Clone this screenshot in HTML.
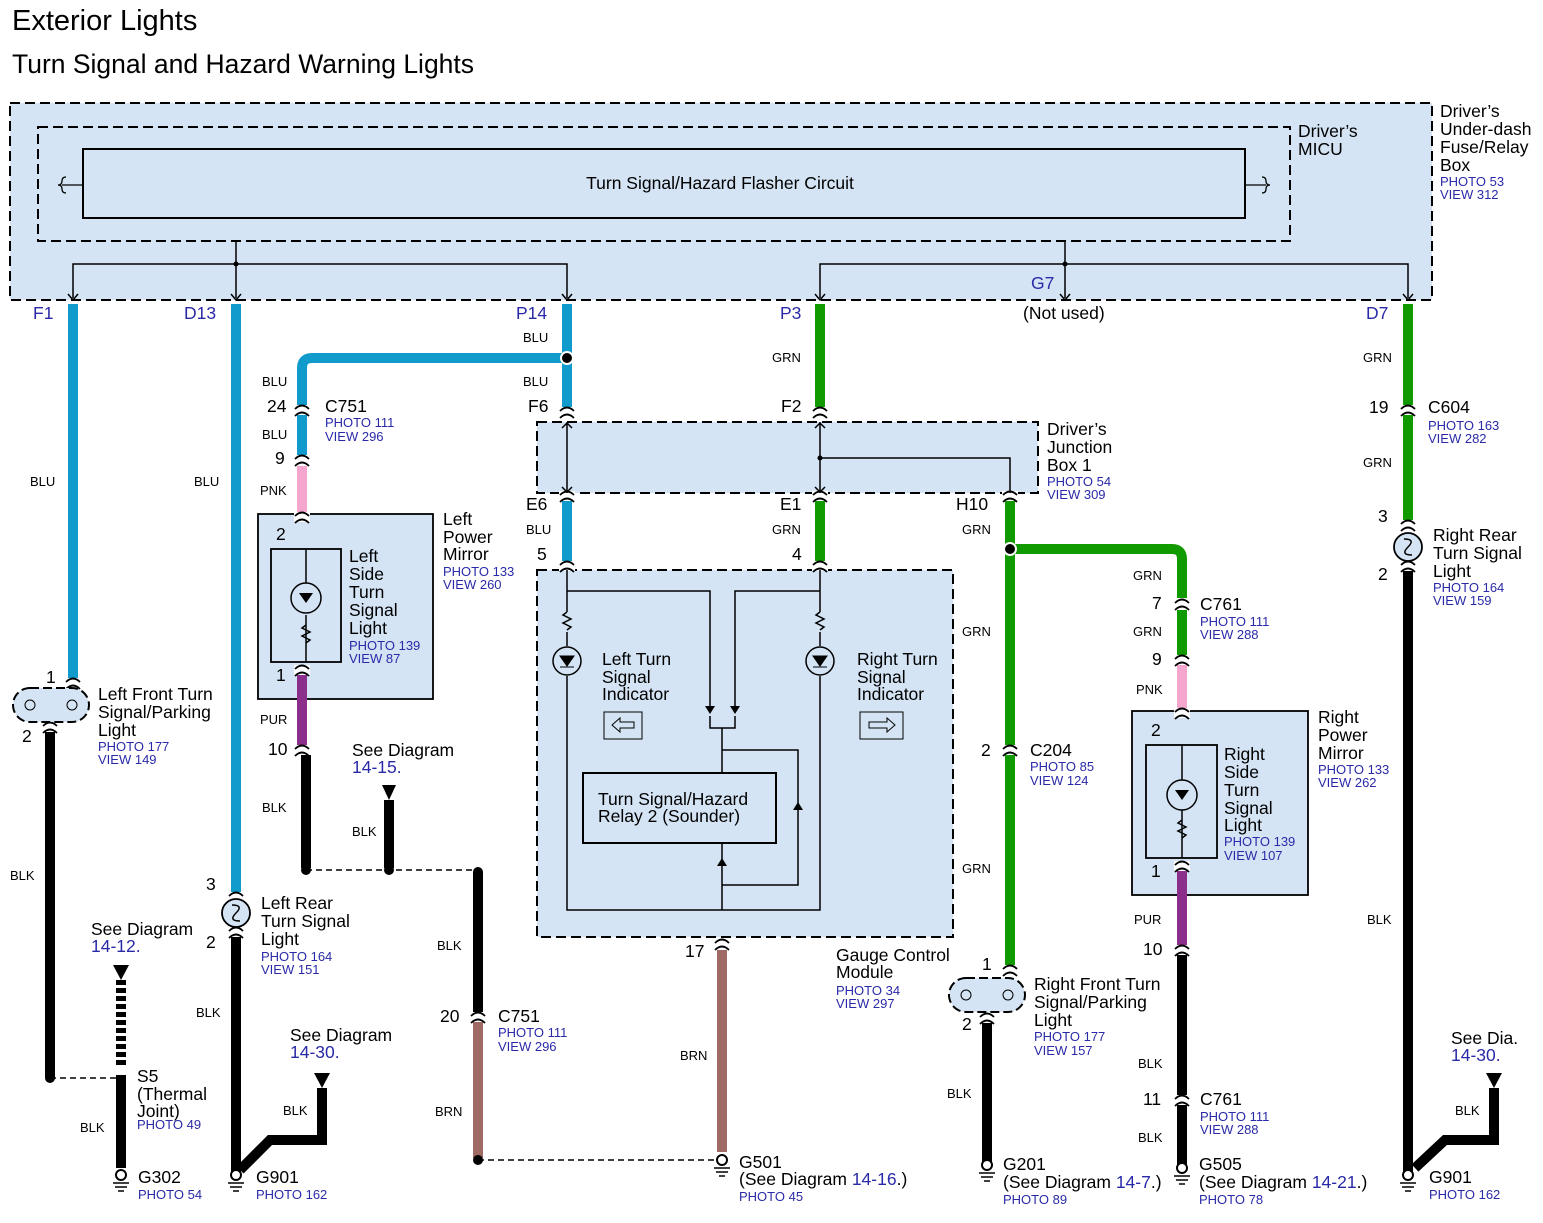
<!DOCTYPE html>
<html><head><meta charset="utf-8"><style>
html,body{margin:0;padding:0;background:#fff}
svg{display:block}
text{font-family:"Liberation Sans",sans-serif;fill:#000}
.t{font-size:17.5px}
.w{font-size:13px}
.p{font-size:13px;fill:#2a2aa8}
.b{font-size:17.5px;fill:#2a2aa8}
</style></head><body>
<svg width="1543" height="1223" viewBox="0 0 1543 1223" xmlns="http://www.w3.org/2000/svg">
<defs>
<g id="cn"><rect x="-8" y="-5" width="16" height="10" fill="#fff"/><path d="M-7,-1 Q0,-8 7,-1 M-7,6 Q0,-1 7,6" fill="none" stroke="#000" stroke-width="1.8"/></g>
<g id="gnd"><circle cx="0" cy="0" r="5" fill="#fff" stroke="#000" stroke-width="2"/><path d="M-8,8H8M-6,12H6M-3,16H3" stroke="#000" stroke-width="1.6"/></g>
<g id="tm"><path d="M-5,-4 L0,2 L5,-4" fill="none" stroke="#000" stroke-width="1.5"/></g>
<g id="bulb"><circle r="14" fill="#d4e4f4" stroke="#000" stroke-width="1.8"/><path d="M-4,-8 Q8,-8 0,0 Q-8,8 4,8" fill="none" stroke="#000" stroke-width="1.5"/></g>
</defs>

<text x="12" y="30" style="font-size:29px">Exterior Lights</text>
<text x="12" y="73" style="font-size:26.5px">Turn Signal and Hazard Warning Lights</text>

<rect x="10" y="103" width="1422" height="197" fill="#d4e4f4" stroke="#000" stroke-width="2" stroke-dasharray="10,5"/>
<rect x="38" y="127" width="1252" height="114" fill="none" stroke="#000" stroke-width="2" stroke-dasharray="10,5"/>
<rect x="83" y="149" width="1162" height="69" fill="none" stroke="#000" stroke-width="2"/>
<text x="720" y="189" class="t" text-anchor="middle">Turn Signal/Hazard Flasher Circuit</text>
<path d="M66,177q-4,0 -4,4q0,4 -4,4q4,0 4,4q0,4 4,4M1262,177q4,0 4,4q0,4 4,4q-4,0 -4,4q0,4 -4,4" fill="none" stroke="#000" stroke-width="1.3"/>
<path d="M62,185H83M1245,185H1266" stroke="#000" stroke-width="1.3"/>
<g fill="none" stroke="#000" stroke-width="1.5">
<path d="M236,241V264M73,298V264H567V298M236,264V298M1065,241V264M820,298V264H1408V298M1065,264V298"/>
</g>
<circle cx="236" cy="264" r="2.5"/><circle cx="1065" cy="264" r="2.5"/>
<use href="#tm" x="73" y="298"/><use href="#tm" x="236" y="298"/><use href="#tm" x="567" y="298"/><use href="#tm" x="820" y="298"/><use href="#tm" x="1065" y="298"/><use href="#tm" x="1408" y="298"/>
<text x="1298" y="137" class="t">Driver’s</text><text x="1298" y="155" class="t">MICU</text>
<text x="1440" y="117" class="t">Driver’s</text><text x="1440" y="135" class="t">Under-dash</text><text x="1440" y="153" class="t">Fuse/Relay</text><text x="1440" y="171" class="t">Box</text>
<text x="1440" y="186" class="p">PHOTO 53</text><text x="1440" y="199" class="p">VIEW 312</text>
<text x="33" y="319" class="b">F1</text><text x="184" y="319" class="b">D13</text><text x="516" y="319" class="b">P14</text><text x="780" y="319" class="b">P3</text><text x="1031" y="289" class="b">G7</text><text x="1023" y="319" class="t">(Not used)</text><text x="1366" y="319" class="b">D7</text>

<rect x="537" y="422" width="501" height="71" fill="#d4e4f4" stroke="#000" stroke-width="2" stroke-dasharray="10,5"/>
<rect x="537" y="570" width="416" height="367" fill="#d4e4f4" stroke="#000" stroke-width="2" stroke-dasharray="10,5"/>
<rect x="258" y="514" width="175" height="185" fill="#d4e4f4" stroke="#000" stroke-width="1.8"/>
<rect x="1132" y="711" width="176" height="184" fill="#d4e4f4" stroke="#000" stroke-width="1.8"/>

<g fill="none" stroke-width="10">
<path d="M73,304V680" stroke="#119bcc"/>
<path d="M50,730V1078" stroke="#000"/>
<path d="M236,304V895" stroke="#119bcc"/>
<path d="M236,935V1172" stroke="#000"/>
<path d="M322,1088V1140H270L240,1170" stroke="#000"/>
<path d="M567,304V413" stroke="#119bcc"/>
<path d="M567,358H312Q302,358 302,368V455" stroke="#119bcc"/>
<path d="M302,466V515" stroke="#f4a6cf"/>
<path d="M302,672V745" stroke="#8c2f8c"/>
<path d="M306,755V868" stroke="#000"/>
<path d="M389,800V868" stroke="#000"/>
<path d="M478,872V1012" stroke="#000"/>
<path d="M478,1022V1158" stroke="#a06a64"/>
<path d="M567,498V563" stroke="#119bcc"/>
<path d="M820,304V413" stroke="#119900"/>
<path d="M820,498V563" stroke="#119900"/>
<path d="M722,950V1152" stroke="#a06a64"/>
<path d="M1010,498V970" stroke="#119900"/>
<path d="M1010,549H1172Q1182,549 1182,559V598" stroke="#119900"/>
<path d="M1182,610V655" stroke="#119900"/>
<path d="M1182,665V711" stroke="#f4a6cf"/>
<path d="M1182,868V945" stroke="#8c2f8c"/>
<path d="M1182,955V1095" stroke="#000"/>
<path d="M1182,1105V1165" stroke="#000"/>
<path d="M987,1020V1162" stroke="#000"/>
<path d="M1408,304V525" stroke="#119900"/>
<path d="M1408,570V1172" stroke="#000"/>
<path d="M1494,1088V1140H1445L1415,1168" stroke="#000"/>
<path d="M121,1075V1168" stroke="#000"/>
<path d="M121,980V1066" stroke="#000" stroke-dasharray="5,3"/>
</g>
<g stroke="#000" stroke-width="1.5" stroke-dasharray="6,4" fill="none">
<path d="M50,1078H121M306,870H478M478,1160H722"/>
</g>
<g fill="#000"><circle cx="50" cy="1078" r="5"/><circle cx="306" cy="870" r="5"/><circle cx="389" cy="870" r="5"/><circle cx="478" cy="872" r="5"/><circle cx="478" cy="1160" r="5"/></g>
<circle cx="567" cy="358" r="6" fill="#000" stroke="#fff" stroke-width="2"/>
<circle cx="1010" cy="549" r="6" fill="#000" stroke="#fff" stroke-width="2"/>
<g fill="#000"><path d="M382,785H396L389,800Z"/><path d="M314,1073H330L322,1088Z"/><path d="M113,965H129L121,980Z"/><path d="M1486,1073H1502L1494,1088Z"/></g>

<use href="#cn" x="302" y="410"/><use href="#cn" x="302" y="460"/><use href="#cn" x="302" y="750"/><use href="#cn" x="1182" y="604"/><use href="#cn" x="1182" y="660"/><use href="#cn" x="1182" y="950"/><use href="#cn" x="1182" y="1100"/><use href="#cn" x="1010" y="750"/><use href="#cn" x="1408" y="410"/><use href="#cn" x="478" y="1017"/>
<use href="#cn" x="567" y="412"/><use href="#cn" x="820" y="412"/><use href="#cn" x="567" y="496"/><use href="#cn" x="820" y="496"/><use href="#cn" x="1010" y="496"/><use href="#cn" x="567" y="566"/><use href="#cn" x="820" y="566"/><use href="#cn" x="722" y="944"/>
<use href="#cn" x="73" y="683"/><use href="#cn" x="50" y="727"/><use href="#cn" x="236" y="897"/><use href="#cn" x="236" y="932"/><use href="#cn" x="302" y="517"/><use href="#cn" x="302" y="670"/><use href="#cn" x="1182" y="713"/><use href="#cn" x="1182" y="866"/><use href="#cn" x="1408" y="525"/><use href="#cn" x="1408" y="566"/><use href="#cn" x="1010" y="970"/><use href="#cn" x="987" y="1018"/>

<g fill="none" stroke="#000" stroke-width="1.5"><path d="M567,422V493M820,422V493M820,458H1010V493M562,428l5,-5l5,5M562,487l5,5l5,-5M815,428l5,-5l5,5M815,487l5,5l5,-5"/></g>
<circle cx="820" cy="458" r="2.5"/>
<text x="1047" y="435" class="t">Driver’s</text><text x="1047" y="453" class="t">Junction</text><text x="1047" y="471" class="t">Box 1</text>
<text x="1047" y="486" class="p">PHOTO 54</text><text x="1047" y="499" class="p">VIEW 309</text>

<g fill="none" stroke="#000" stroke-width="1.5">
<path d="M567,570V612M567,632V646M567,676V910H820V676M820,570V612M820,632V646"/>
<path d="M567,591H710V706M820,591H735V706M710,716V728H735V716M722,728V773M722,843V910M722,750H798V885H722M798,750V885"/>
<path d="M567,612l-4,3l8,4l-8,4l8,4l-4,3M820,612l-4,3l8,4l-8,4l8,4l-4,3"/>
</g>
<circle cx="567" cy="661" r="14" fill="none" stroke="#000" stroke-width="1.5"/><path d="M560,656H574L567,666ZM560,667H574" fill="#000" stroke="#000"/>
<circle cx="820" cy="661" r="14" fill="none" stroke="#000" stroke-width="1.5"/><path d="M813,656H827L820,666ZM813,667H827" fill="#000" stroke="#000"/>
<path d="M705,706H715L710,714ZM730,706H740L735,714ZM717,866H727L722,858ZM793,810H803L798,802Z" fill="#000"/>
<rect x="583" y="773" width="193" height="70" fill="#d4e4f4" stroke="#000" stroke-width="2"/>
<text x="598" y="805" class="t">Turn Signal/Hazard</text><text x="598" y="822" class="t">Relay 2 (Sounder)</text>
<rect x="604" y="712" width="38" height="27" fill="none" stroke="#000"/><path d="M612,725l8,-7v4h14v6h-14v4z" fill="none" stroke="#000"/>
<rect x="860" y="712" width="43" height="27" fill="none" stroke="#000"/><path d="M895,725l-8,-7v4h-18v6h18v4z" fill="none" stroke="#000"/>
<text x="602" y="665" class="t">Left Turn</text><text x="602" y="683" class="t">Signal</text><text x="602" y="700" class="t">Indicator</text>
<text x="857" y="665" class="t">Right Turn</text><text x="857" y="683" class="t">Signal</text><text x="857" y="700" class="t">Indicator</text>
<text x="836" y="961" class="t">Gauge Control</text><text x="836" y="978" class="t">Module</text><text x="836" y="995" class="p">PHOTO 34</text><text x="836" y="1008" class="p">VIEW 297</text>

<rect x="271" y="549" width="70" height="113" fill="none" stroke="#000" stroke-width="1.8"/>
<g fill="none" stroke="#000" stroke-width="1.5"><path d="M306,549V583M306,615V662M306,625l-4,3l8,4l-8,4l8,4l-4,3"/></g>
<circle cx="306" cy="598" r="15" fill="none" stroke="#000" stroke-width="1.5"/><path d="M299,593H313L306,603Z" fill="#000"/>
<rect x="1146" y="745" width="71" height="113" fill="none" stroke="#000" stroke-width="1.8"/>
<g fill="none" stroke="#000" stroke-width="1.5"><path d="M1182,745V780M1182,810V858M1182,820l-4,3l8,4l-8,4l8,4l-4,3"/></g>
<circle cx="1182" cy="795" r="15" fill="none" stroke="#000" stroke-width="1.5"/><path d="M1175,790H1189L1182,800Z" fill="#000"/>

<rect x="13" y="688" width="76" height="34" rx="17" fill="#d4e4f4" stroke="#000" stroke-width="2" stroke-dasharray="9,4"/>
<circle cx="30" cy="705" r="5" fill="none" stroke="#000"/><circle cx="72" cy="705" r="5" fill="none" stroke="#000"/>
<rect x="949" y="978" width="76" height="34" rx="17" fill="#d4e4f4" stroke="#000" stroke-width="2" stroke-dasharray="9,4"/>
<circle cx="966" cy="995" r="5" fill="none" stroke="#000"/><circle cx="1008" cy="995" r="5" fill="none" stroke="#000"/>
<use href="#bulb" x="236" y="913"/><use href="#bulb" x="1408" y="547"/>

<use href="#gnd" x="121" y="1175"/><use href="#gnd" x="236" y="1175"/><use href="#gnd" x="722" y="1160"/><use href="#gnd" x="987" y="1165"/><use href="#gnd" x="1182" y="1168"/><use href="#gnd" x="1408" y="1175"/>

<g class="w">
<text x="30" y="486">BLU</text><text x="194" y="486">BLU</text><text x="523" y="342">BLU</text><text x="523" y="386">BLU</text><text x="262" y="386">BLU</text><text x="262" y="439">BLU</text><text x="260" y="495">PNK</text><text x="260" y="724">PUR</text><text x="262" y="812">BLK</text><text x="352" y="836">BLK</text><text x="437" y="950">BLK</text><text x="435" y="1116">BRN</text><text x="526" y="534">BLU</text><text x="772" y="362">GRN</text><text x="772" y="534">GRN</text><text x="680" y="1060">BRN</text><text x="962" y="534">GRN</text><text x="962" y="636">GRN</text><text x="962" y="873">GRN</text><text x="1133" y="580">GRN</text><text x="1133" y="636">GRN</text><text x="1136" y="694">PNK</text><text x="1134" y="924">PUR</text><text x="1138" y="1068">BLK</text><text x="1138" y="1142">BLK</text><text x="947" y="1098">BLK</text><text x="1363" y="362">GRN</text><text x="1363" y="467">GRN</text><text x="1367" y="924">BLK</text><text x="1455" y="1115">BLK</text><text x="10" y="880">BLK</text><text x="196" y="1017">BLK</text><text x="283" y="1115">BLK</text><text x="80" y="1132">BLK</text>
</g>

<g class="t">
<text x="46" y="683">1</text><text x="22" y="742">2</text><text x="206" y="890">3</text><text x="206" y="948">2</text>
<text x="267" y="412">24</text><text x="275" y="464">9</text><text x="276" y="540">2</text><text x="276" y="681">1</text><text x="268" y="755">10</text>
<text x="440" y="1022">20</text><text x="528" y="412">F6</text><text x="781" y="412">F2</text><text x="526" y="510">E6</text><text x="780" y="510">E1</text><text x="956" y="510">H10</text>
<text x="537" y="560">5</text><text x="792" y="560">4</text><text x="685" y="957">17</text>
<text x="981" y="756">2</text><text x="982" y="970">1</text><text x="962" y="1030">2</text>
<text x="1152" y="609">7</text><text x="1152" y="665">9</text><text x="1151" y="736">2</text><text x="1151" y="877">1</text><text x="1143" y="955">10</text><text x="1143" y="1105">11</text>
<text x="1369" y="413">19</text><text x="1378" y="522">3</text><text x="1378" y="580">2</text>
</g>
<text x="325" y="412" class="t">C751</text><text x="325" y="427" class="p">PHOTO 111</text><text x="325" y="441" class="p">VIEW 296</text>
<text x="443" y="525" class="t">Left</text><text x="443" y="543" class="t">Power</text><text x="443" y="560" class="t">Mirror</text><text x="443" y="576" class="p">PHOTO 133</text><text x="443" y="589" class="p">VIEW 260</text>
<text x="349" y="562" class="t">Left</text><text x="349" y="580" class="t">Side</text><text x="349" y="598" class="t">Turn</text><text x="349" y="616" class="t">Signal</text><text x="349" y="634" class="t">Light</text><text x="349" y="650" class="p">PHOTO 139</text><text x="349" y="663" class="p">VIEW 87</text>
<text x="98" y="700" class="t">Left Front Turn</text><text x="98" y="718" class="t">Signal/Parking</text><text x="98" y="736" class="t">Light</text><text x="98" y="751" class="p">PHOTO 177</text><text x="98" y="764" class="p">VIEW 149</text>
<text x="352" y="756" class="t">See Diagram</text><text x="352" y="773" class="b">14-15.</text>
<text x="261" y="909" class="t">Left Rear</text><text x="261" y="927" class="t">Turn Signal</text><text x="261" y="945" class="t">Light</text><text x="261" y="961" class="p">PHOTO 164</text><text x="261" y="974" class="p">VIEW 151</text>
<text x="91" y="935" class="t">See Diagram</text><text x="91" y="952" class="b">14-12.</text>
<text x="290" y="1041" class="t">See Diagram</text><text x="290" y="1058" class="b">14-30.</text>
<text x="137" y="1082" class="t">S5</text><text x="137" y="1100" class="t">(Thermal</text><text x="137" y="1117" class="t">Joint)</text><text x="137" y="1129" class="p">PHOTO 49</text>
<text x="138" y="1183" class="t">G302</text><text x="138" y="1199" class="p">PHOTO 54</text>
<text x="256" y="1183" class="t">G901</text><text x="256" y="1199" class="p">PHOTO 162</text>
<text x="498" y="1022" class="t">C751</text><text x="498" y="1037" class="p">PHOTO 111</text><text x="498" y="1051" class="p">VIEW 296</text>
<text x="739" y="1168" class="t">G501</text><text x="739" y="1185" class="t">(See Diagram <tspan style="fill:#2a2aa8">14-16</tspan>.)</text><text x="739" y="1201" class="p">PHOTO 45</text>
<text x="1030" y="756" class="t">C204</text><text x="1030" y="771" class="p">PHOTO 85</text><text x="1030" y="785" class="p">VIEW 124</text>
<text x="1034" y="990" class="t">Right Front Turn</text><text x="1034" y="1008" class="t">Signal/Parking</text><text x="1034" y="1026" class="t">Light</text><text x="1034" y="1041" class="p">PHOTO 177</text><text x="1034" y="1055" class="p">VIEW 157</text>
<text x="1003" y="1170" class="t">G201</text><text x="1003" y="1188" class="t">(See Diagram <tspan style="fill:#2a2aa8">14-7</tspan>.)</text><text x="1003" y="1204" class="p">PHOTO 89</text>
<text x="1200" y="610" class="t">C761</text><text x="1200" y="626" class="p">PHOTO 111</text><text x="1200" y="639" class="p">VIEW 288</text>
<text x="1318" y="723" class="t">Right</text><text x="1318" y="741" class="t">Power</text><text x="1318" y="759" class="t">Mirror</text><text x="1318" y="774" class="p">PHOTO 133</text><text x="1318" y="787" class="p">VIEW 262</text>
<text x="1224" y="760" class="t">Right</text><text x="1224" y="778" class="t">Side</text><text x="1224" y="796" class="t">Turn</text><text x="1224" y="814" class="t">Signal</text><text x="1224" y="831" class="t">Light</text><text x="1224" y="846" class="p">PHOTO 139</text><text x="1224" y="860" class="p">VIEW 107</text>
<text x="1200" y="1105" class="t">C761</text><text x="1200" y="1121" class="p">PHOTO 111</text><text x="1200" y="1134" class="p">VIEW 288</text>
<text x="1199" y="1170" class="t">G505</text><text x="1199" y="1188" class="t">(See  Diagram  <tspan style="fill:#2a2aa8">14-21</tspan>.)</text><text x="1199" y="1204" class="p">PHOTO 78</text>
<text x="1428" y="413" class="t">C604</text><text x="1428" y="430" class="p">PHOTO 163</text><text x="1428" y="443" class="p">VIEW 282</text>
<text x="1433" y="541" class="t">Right Rear</text><text x="1433" y="559" class="t">Turn Signal</text><text x="1433" y="577" class="t">Light</text><text x="1433" y="592" class="p">PHOTO 164</text><text x="1433" y="605" class="p">VIEW 159</text>
<text x="1451" y="1044" class="t">See  Dia.</text><text x="1451" y="1061" class="b">14-30.</text>
<text x="1429" y="1183" class="t">G901</text><text x="1429" y="1199" class="p">PHOTO 162</text>
</svg>
</body></html>
